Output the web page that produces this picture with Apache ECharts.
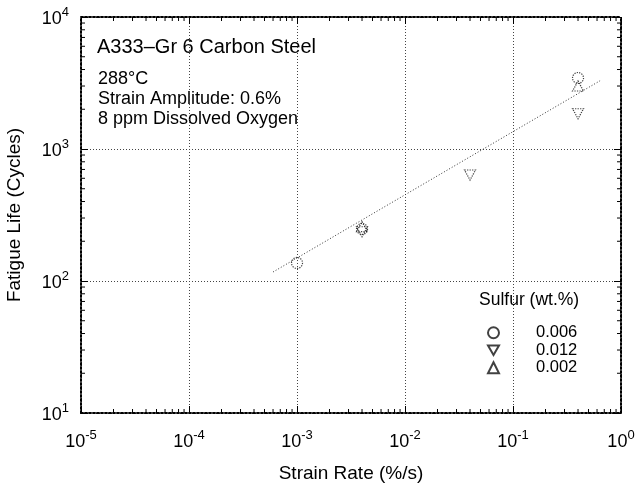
<!DOCTYPE html>
<html><head><meta charset="utf-8">
<script src="https://cdn.jsdelivr.net/npm/echarts@6/dist/echarts.min.js"></script>
<style>html,body{margin:0;padding:0;background:#fff}#c{width:637px;height:485px}</style>
</head><body><div id="c"></div>
<script>
// ---- data ----
const xTickExps = [-5, -4, -3, -2, -1, 0];
const yTickExps = [1, 2, 3, 4];
const sulfurLevels = ['0.006', '0.012', '0.002'];
const strainRate006 = [0.001, 0.004, 0.4];
const life006 = [137, 248, 3450];
const strainRate012 = [0.004, 0.04, 0.4];
const life012 = [236, 635, 1850];
const strainRate002 = [0.004, 0.4];
const life002 = [258, 3000];
const fitRate = [6.0e-4, 0.64];
const fitLife = [117, 3290];
const infoLines = ['288\u00B0C', 'Strain Amplitude: 0.6%', '8 ppm Dissolved Oxygen'];
const chartTitle = 'A333\u2013Gr 6 Carbon Steel';
const legendTitle = 'Sulfur (wt.%)';

const zip = (a, b) => a.map((v, i) => [v, b[i]]);
const xMin = Math.pow(10, xTickExps[0]), xMax = Math.pow(10, xTickExps[xTickExps.length - 1]);
const yMin = Math.pow(10, yTickExps[0]), yMax = Math.pow(10, yTickExps[yTickExps.length - 1]);
const minorOf = (exps) => {
  const out = [];
  for (let i = 0; i < exps.length - 1; i++) for (let m = 2; m <= 9; m++) out.push(m * Math.pow(10, exps[i]));
  return out;
};
const xMinor = minorOf(xTickExps);
const yMinor = minorOf(yTickExps);

const FONT = 'Liberation Sans, Arial, Helvetica, sans-serif';
const downTri = 'path://M0,0L10,0L5,8.66Z';
const markerStyle = { color: 'rgba(255,255,255,0)', borderColor: '#111', borderWidth: 1.2, borderType: 'dotted' };
const powLabel = (v) => {
  const e = Math.round(Math.log10(v));
  return '{b|10}{e|' + e + '}';
};
const richLbl = {
  b: { fontSize: 18, lineHeight: 22, verticalAlign: 'bottom', fontFamily: FONT, color: '#000' },
  e: { fontSize: 13, lineHeight: 15, verticalAlign: 'top', fontFamily: FONT, color: '#000' }
};
const frameLine = { show: true, onZero: false, lineStyle: { color: '#000', width: 2, type: [2, 2] } };
const majorTick = { show: true, inside: true, length: 7, lineStyle: { color: '#000', width: 1 } };
const gridLine = { show: true, lineStyle: { color: '#444', width: 1, type: [1, 2] } };
const TICK = 4;

const chart = echarts.init(document.getElementById('c'), null, { renderer: 'canvas' });
chart.setOption({
  animation: false,
  backgroundColor: '#fff',
  grid: { left: 81, right: 16, top: 17, bottom: 72, containLabel: false, outerBoundsMode: 'none' },
  xAxis: [
    { type: 'log', min: xMin, max: xMax, position: 'bottom',
      name: 'Strain Rate (%/s)', nameLocation: 'middle', nameGap: 51, nameMoveOverlap: false,
      nameTextStyle: { fontSize: 19, fontFamily: FONT, color: '#000' },
      axisLine: frameLine, axisTick: majorTick, splitLine: gridLine,
      axisLabel: { margin: 16, formatter: powLabel, rich: richLbl, interval: 0, showMinLabel: true, showMaxLabel: true } },
    { type: 'log', min: xMin, max: xMax, position: 'top',
      axisLine: frameLine, axisTick: majorTick, splitLine: { show: false }, axisLabel: { show: false } }
  ],
  yAxis: [
    { type: 'log', min: yMin, max: yMax, position: 'left',
      name: 'Fatigue Life (Cycles)', nameLocation: 'middle', nameGap: 57, nameMoveOverlap: false,
      nameTextStyle: { fontSize: 19, fontFamily: FONT, color: '#000' },
      axisLine: frameLine, axisTick: majorTick, splitLine: gridLine,
      axisLabel: { margin: 12, formatter: powLabel, rich: richLbl, showMinLabel: true, showMaxLabel: true } },
    { type: 'log', min: yMin, max: yMax, position: 'right',
      axisLine: frameLine, axisTick: majorTick, splitLine: { show: false }, axisLabel: { show: false } }
  ],
  legend: {
    data: sulfurLevels, orient: 'vertical', left: 482, top: 319, itemWidth: 11, itemHeight: 11, itemGap: 0,
    selectedMode: false,
    textStyle: { fontSize: 16.5, lineHeight: 17.5, fontFamily: FONT, color: '#000', padding: [0, 0, 0, 32] }
  },
  graphic: [
    { type: 'text', left: 97, top: 37, style: { text: chartTitle, font: '20px ' + FONT, fill: '#000' } },
    { type: 'text', left: 98, top: 69, style: { text: infoLines.join('\n'), font: '18px ' + FONT, lineHeight: 20, fill: '#000' } },
    { type: 'text', left: 479, top: 291, style: { text: legendTitle, font: '17.5px ' + FONT, fill: '#000' } }
  ],
  series: [
    { type: 'custom', coordinateSystem: 'cartesian2d', silent: true, clip: false, z: 10, xAxisIndex: 0, yAxisIndex: 0,
      data: xMinor.map(v => [v, yMin]),
      renderItem: (params, api) => {
        const p = api.coord([api.value(0), yMin]);
        const top = api.coord([api.value(0), yMax]);
        return { type: 'group', children: [
          { type: 'line', shape: { x1: p[0], y1: p[1], x2: p[0], y2: p[1] - TICK }, style: { stroke: '#000', lineWidth: 1 } },
          { type: 'line', shape: { x1: top[0], y1: top[1], x2: top[0], y2: top[1] + TICK }, style: { stroke: '#000', lineWidth: 1 } }
        ] };
      } },
    { type: 'custom', coordinateSystem: 'cartesian2d', silent: true, clip: false, z: 10, xAxisIndex: 0, yAxisIndex: 0,
      data: yMinor.map(v => [xMin, v]),
      renderItem: (params, api) => {
        const p = api.coord([xMin, api.value(1)]);
        const r = api.coord([xMax, api.value(1)]);
        return { type: 'group', children: [
          { type: 'line', shape: { x1: p[0], y1: p[1], x2: p[0] + TICK, y2: p[1] }, style: { stroke: '#000', lineWidth: 1 } },
          { type: 'line', shape: { x1: r[0], y1: r[1], x2: r[0] - TICK, y2: r[1] }, style: { stroke: '#000', lineWidth: 1 } }
        ] };
      } },
    { type: 'line', data: zip(fitRate, fitLife), symbol: 'none', silent: true,
      lineStyle: { color: '#333', width: 1, type: [1, 2] } },
    { name: sulfurLevels[0], type: 'scatter', data: zip(strainRate006, life006), symbol: 'circle', symbolSize: 11, itemStyle: markerStyle },
    { name: sulfurLevels[1], type: 'scatter', data: zip(strainRate012, life012), symbol: downTri, symbolSize: [11, 10], itemStyle: markerStyle },
    { name: sulfurLevels[2], type: 'scatter', data: zip(strainRate002, life002), symbol: 'triangle', symbolSize: [11, 10], itemStyle: markerStyle }
  ]
});
</script></body></html>
